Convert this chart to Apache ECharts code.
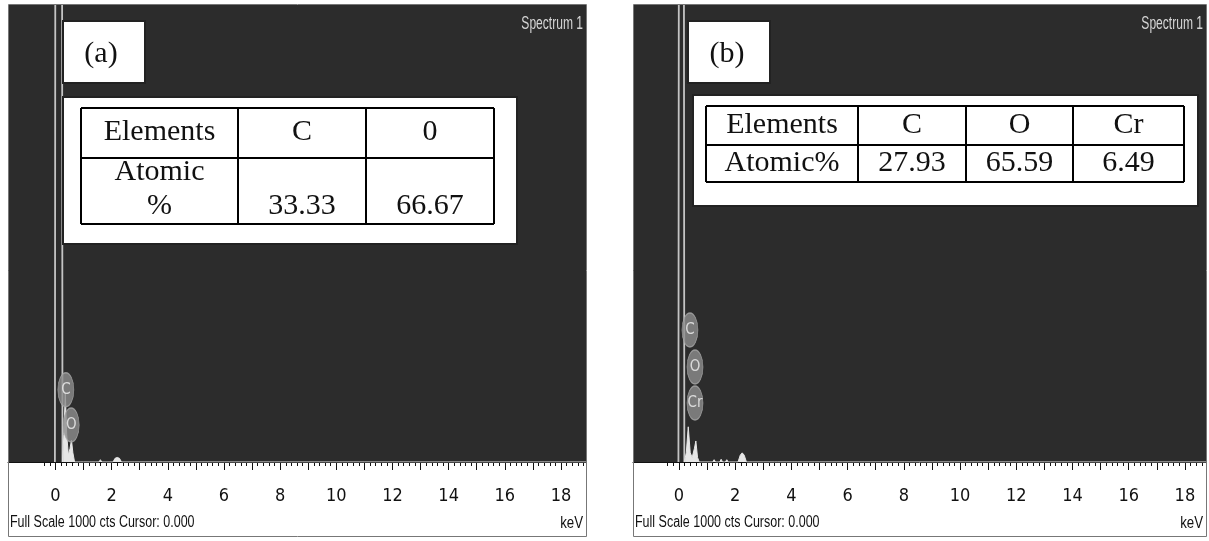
<!DOCTYPE html>
<html>
<head>
<meta charset="utf-8">
<script src="https://cdn.jsdelivr.net/npm/echarts@6/dist/echarts.min.js"></script>
<style>
html,body{margin:0;padding:0;background:#fff;}
#chart{width:1209px;height:541px;}
</style>
</head>
<body>
<div id="chart"></div>
<script>
// ---------------- data ----------------
const tickLabelValues = [0, 2, 4, 6, 8, 10, 12, 14, 16, 18];

// Panel (a) table
const elementsA = ['C', '0'];
const atomicA = ['33.33', '66.67'];
// Panel (b) table
const elementsB = ['C', 'O', 'Cr'];
const atomicB = ['27.93', '65.59', '6.49'];

// Panel (a) spectrum (keV, counts)
const zeroA_keV = [-0.02, 0.0, 0.23, 0.25];
const zeroA_cts = [0, 1500, 1500, 0];
const specA_keV = [0.25, 0.30, 0.35, 0.40, 0.46, 0.52, 0.57, 0.62, 0.68, 0.90, 0.95, 1.00, 1.20, 1.25, 1.30, 1.55, 1.60, 1.65, 2.05, 2.12, 2.20, 2.28, 2.35, 18.9];
const specA_cts = [0, 60, 150, 60, 15, 30, 48, 20, 0, 0, 4, 0, 0, 4, 0, 0, 5, 0, 0, 8, 10, 8, 0, 0];
const peakNamesA = ['C', 'O'];
const peakKeVA = [0.37, 0.56];
const peakCtsA = [158, 81];

// Panel (b) spectrum (keV, counts)
const zeroB_keV = [-0.02, 0.0, 0.17, 0.19];
const zeroB_cts = [0, 1500, 1500, 0];
const specB_keV = [0.19, 0.26, 0.33, 0.40, 0.47, 0.55, 0.60, 0.66, 0.72, 1.20, 1.25, 1.30, 1.45, 1.50, 1.55, 1.65, 1.70, 1.75, 2.10, 2.18, 2.25, 2.32, 2.40, 3.40, 3.45, 3.50, 18.8];
const specB_cts = [0, 20, 77, 20, 10, 30, 46, 10, 0, 0, 5, 0, 0, 6, 0, 0, 5, 0, 0, 15, 20, 15, 0, 0, 4, 0, 0];
const peakNamesB = ['C', 'O', 'Cr'];
const peakKeVB = [0.39, 0.57, 0.57];
const peakCtsB = [289, 208, 129];

// ---------------- helpers ----------------
const zip = (xs, ys) => xs.map((x, i) => [x, ys[i]]);
const minorTicks = [];
for (let v = -2; v <= 94; v++) minorTicks.push(+(v * 0.2).toFixed(1));
const majorTicks = [];
for (let v = 0; v <= 18; v++) majorTicks.push(v);

const narrow = "'Liberation Sans Narrow','Arial Narrow','DejaVu Sans Condensed',sans-serif";
const serif = "'Liberation Serif','Times New Roman',serif";
const sans = "'Liberation Sans',Arial,sans-serif";

const panels = [
  { left: 8, width: 578, min: -1.69, max: 18.89 },
  { left: 633, width: 573, min: -1.636, max: 18.75 }
];
const TOP = 5, H = 457;

const grids = panels.map(p => ({
  left: p.left, top: TOP, width: p.width, height: H,
  show: true, backgroundColor: '#2c2c2c', borderWidth: 0
}));

const xAxes = [];
const yAxes = [];
panels.forEach((p, gi) => {
  xAxes.push({
    type: 'value', gridIndex: gi, min: p.min, max: p.max, position: 'bottom',
    axisLine: { show: true, onZero: false, lineStyle: { color: '#111', width: 1 } },
    axisTick: { show: true, customValues: majorTicks, length: 8, lineStyle: { color: '#111', width: 1 } },
    axisLabel: { show: true, customValues: tickLabelValues, margin: 25, fontSize: 18, fontFamily: narrow, color: '#111' },
    splitLine: { show: false }
  });
  xAxes.push({
    type: 'value', gridIndex: gi, min: p.min, max: p.max, position: 'bottom',
    axisLine: { show: false, onZero: false },
    axisTick: { show: true, customValues: minorTicks, length: 4, lineStyle: { color: '#111', width: 1 } },
    axisLabel: { show: false },
    splitLine: { show: false }
  });
  yAxes.push({ type: 'value', gridIndex: gi, min: 0, max: 1000, show: false, splitLine: { show: false } });
});

function peakSeries(gi, names, keV, cts) {
  return {
    type: 'scatter', xAxisIndex: gi * 2, yAxisIndex: gi,
    symbol: 'circle', symbolSize: [16, 34],
    itemStyle: { color: '#8e8e8e', borderColor: '#a8a8a8', borderWidth: 1 },
    label: { show: true, position: 'inside', formatter: p => p.name, color: '#f2f2f2', fontSize: 15, fontFamily: narrow },
    data: names.map((n, i) => ({ name: n, value: [keV[i], cts[i]] })),
    z: 5
  };
}

const series = [
  { type: 'line', xAxisIndex: 0, yAxisIndex: 0, data: zip(zeroA_keV, zeroA_cts), showSymbol: false, clip: true,
    lineStyle: { color: '#c4c4c4', width: 1.8 }, z: 3 },
  { type: 'line', xAxisIndex: 0, yAxisIndex: 0, data: zip(specA_keV, specA_cts), showSymbol: false, clip: true,
    lineStyle: { color: '#e6e6e6', width: 1 }, areaStyle: { color: '#e6e6e6', opacity: 1 }, z: 3 },
  peakSeries(0, peakNamesA, peakKeVA, peakCtsA),
  { type: 'line', xAxisIndex: 2, yAxisIndex: 1, data: zip(zeroB_keV, zeroB_cts), showSymbol: false, clip: true,
    lineStyle: { color: '#c4c4c4', width: 1.8 }, z: 3 },
  { type: 'line', xAxisIndex: 2, yAxisIndex: 1, data: zip(specB_keV, specB_cts), showSymbol: false, clip: true,
    lineStyle: { color: '#e6e6e6', width: 1 }, areaStyle: { color: '#e6e6e6', opacity: 1 }, z: 3 },
  peakSeries(1, peakNamesB, peakKeVB, peakCtsB)
];

// ---------------- annotations (graphic) ----------------
const graphic = [];
function txt(x, y, text, opt) {
  graphic.push(Object.assign({
    type: 'text', x: x, y: y, z: 20,
    style: Object.assign({ text: text, fill: '#111', align: 'center', verticalAlign: 'middle',
      fontSize: 30, fontFamily: serif }, opt && opt.style)
  }, opt && opt.el));
}
function rect(x, y, w, h, style) {
  graphic.push({ type: 'rect', z: 15, shape: { x: x, y: y, width: w, height: h },
    style: Object.assign({ fill: '#fff', stroke: '#222', lineWidth: 2 }, style) });
}
function line(x1, y1, x2, y2, w) {
  graphic.push({ type: 'line', z: 18, shape: { x1: x1, y1: y1, x2: x2, y2: y2 },
    style: { stroke: '#000', lineWidth: w || 2 } });
}

// panel frames + bottom texts
panels.forEach((p, gi) => {
  graphic.push({ type: 'rect', z: 25, shape: { x: p.left + 0.5, y: TOP - 0.5, width: p.width, height: 532 },
    style: { fill: 'none', stroke: '#777', lineWidth: 1 } });
  txt(p.left + 2, 523, 'Full Scale 1000 cts Cursor: 0.000',
    { style: { align: 'left', fontSize: 16, fontFamily: sans }, el: { scaleX: 0.78 } });
  txt(p.left + p.width - 3, 523, 'keV',
    { style: { align: 'right', fontSize: 17, fontFamily: sans }, el: { scaleX: 0.78 } });
  txt(p.left + p.width - 3, 24, 'Spectrum 1',
    { style: { align: 'right', fontSize: 18, fill: '#d6d6d6', fontFamily: sans }, el: { scaleX: 0.67 } });
});

// Panel (a) label and table
rect(63, 21, 82, 62);
txt(101, 54, '(a)');
rect(63, 97, 454, 147);
(function () {
  const cols = [81, 238, 366, 494];
  const rows = [108, 158, 224];
  rows.forEach(y => line(cols[0], y, cols[cols.length - 1], y));
  cols.forEach(x => line(x, rows[0], x, rows[rows.length - 1]));
  const header = ['Elements'].concat(elementsA);
  header.forEach((t, i) => txt((cols[i] + cols[i + 1]) / 2, 132, t));
  txt((cols[0] + cols[1]) / 2, 172, 'Atomic');
  txt((cols[0] + cols[1]) / 2, 206, '%');
  atomicA.forEach((t, i) => txt((cols[i + 1] + cols[i + 2]) / 2, 206, t));
})();

// Panel (b) label and table
rect(688, 21, 82, 62);
txt(727, 54, '(b)');
rect(693, 95, 505, 111);
(function () {
  const cols = [706, 858, 966, 1073, 1184];
  const rows = [106, 145, 182];
  rows.forEach(y => line(cols[0], y, cols[cols.length - 1], y));
  cols.forEach(x => line(x, rows[0], x, rows[rows.length - 1]));
  const header = ['Elements'].concat(elementsB);
  header.forEach((t, i) => txt((cols[i] + cols[i + 1]) / 2, 125, t));
  const row2 = ['Atomic%'].concat(atomicB);
  row2.forEach((t, i) => txt((cols[i] + cols[i + 1]) / 2, 163, t));
})();

const chart = echarts.init(document.getElementById('chart'), null, { renderer: 'canvas' });
chart.setOption({
  animation: false,
  backgroundColor: '#ffffff',
  grid: grids,
  xAxis: xAxes,
  yAxis: yAxes,
  series: series,
  graphic: graphic
});
</script>
</body>
</html>
